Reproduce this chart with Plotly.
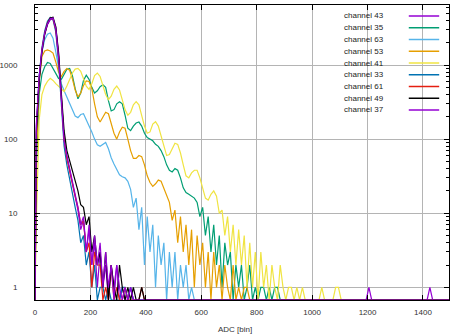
import plotly.graph_objects as go

# ---------------- data (counts per 10-ADC bin, starting at ADC 0) ----------------
bin_width = 10
adc_max = 1500

channels = ["channel 43", "channel 35", "channel 63", "channel 53", "channel 41",
            "channel 33", "channel 61", "channel 49", "channel 37"]
colors = ["#9400D3", "#009E73", "#56B4E9", "#E69F00", "#F0E442",
          "#0072B2", "#E51E10", "#000000", "#9400D3"]

counts_ch43 = [150, 650, 1500, 2600, 3500, 4100, 4200, 3200, 1400, 380, 100, 58, 38, 26, 17,
               11, 6, 8, 3, 6, 2, 4, 1, 3, 1, 2, 0, 2, 1, 2, 0, 1, 0, 0, 1]
counts_ch35 = [40, 400, 750, 950, 1080, 1050, 900, 760, 660, 640, 760, 880, 900, 720, 480,
               350, 420, 620, 730, 640, 500, 420, 450, 510, 540, 500, 330, 240, 250, 300,
               320, 300, 210, 140, 130, 150, 165, 170, 150, 120, 105, 100, 95, 85, 80,
               70, 58, 45, 38, 36, 40, 38, 30, 22, 19, 18, 17, 16, 14, 9,
               12, 5, 9, 3, 7, 2, 5, 1, 4, 2, 3, 0, 2, 1, 2,
               0, 1, 2, 0, 1, 0, 1, 1, 0, 1, 0, 1, 1]
counts_ch63 = [100, 700, 1500, 2200, 2600, 2700, 2300, 1500, 850, 560, 450, 370, 300, 240, 205,
               195, 215, 220, 185, 150, 125, 100, 84, 80, 86, 90, 74, 56, 46, 38,
               33, 31, 30, 27, 21, 12, 16, 6, 12, 2, 9, 3, 7, 1, 5,
               2, 4, 0, 3, 1, 3, 0, 2, 1, 2, 0, 1]
counts_ch53 = [60, 600, 1300, 1550, 1600, 1550, 1450, 1100, 800, 700, 820, 900, 850, 650, 460,
               370, 420, 530, 610, 600, 480, 300, 200, 170, 200, 230, 220, 160, 120, 100,
               125, 145, 140, 100, 70, 55, 55, 60, 58, 45, 32, 26, 23, 25, 28,
               27, 22, 17, 14, 8, 11, 4, 9, 3, 7, 2, 6, 1, 5, 2,
               4, 1, 3, 0, 3, 1, 2, 0, 2, 1, 0, 2, 0, 1, 0, 1, 1]
counts_ch41 = [8, 180, 400, 520, 600, 660, 620, 560, 520, 470, 440, 520, 650, 780, 880,
               900, 820, 640, 520, 470, 560, 720, 780, 700, 540, 400, 340, 380, 470, 520,
               460, 340, 250, 210, 230, 290, 320, 290, 210, 150, 120, 125, 160, 172, 150,
               110, 75, 60, 62, 75, 88, 85, 65, 45, 32, 30, 35, 38, 38, 30,
               22, 16, 15, 18, 20, 17, 10, 11, 5, 9, 3, 7, 2, 6, 2,
               5, 1, 4, 1, 3, 0, 3, 1, 2, 0, 2, 1, 0, 2, 1,
               0, 1, 1, 0, 1, 0, 1]
counts_ch33 = [140, 700, 1700, 2900, 3900, 4400, 4100, 2800, 1100, 300, 80, 45, 28, 18, 12,
               8, 4, 5, 2, 3, 1, 2, 0, 1, 1, 0, 1, 0, 0, 0, 0, 1, 1, 0, 1]
counts_ch61 = [130, 650, 1600, 2700, 3700, 4300, 4200, 3000, 1300, 360, 100, 55, 36, 25, 17,
               12, 7, 8, 3, 4, 1, 3, 2, 2, 0, 1, 0, 2, 0, 1, 0, 0, 1, 0, 0, 0, 0, 0, 1]
counts_ch49 = [120, 600, 1500, 2600, 3600, 4300, 4400, 3300, 1500, 420, 130, 70, 50, 36, 27,
               20, 13, 12, 7, 9, 3, 5, 2, 3, 1, 3, 0, 2, 1, 0, 2, 1, 0, 1, 0, 1, 0, 0, 1]
counts_ch37 = [160, 700, 1600, 2700, 3600, 4200, 4300, 3100, 1300, 350, 95, 60, 40, 28, 19,
               12, 7, 9, 3, 7, 2, 5, 2, 4, 1, 3, 1, 2, 0, 2, 1, 0, 1, 0, 1]

# isolated single hits far out in the tails (ADC bin, counts)
hits_ch43_adc = [1200, 1420]
hits_ch43_counts = [1, 1]
hits_ch41_adc = [1030, 1080, 1090]
hits_ch41_counts = [1, 1, 1]

x_ticks = [0, 200, 400, 600, 800, 1000, 1200, 1400]
y_ticks = [1, 10, 100, 1000]
y_tick_text = ["1", "10", "100", "1000"]

series = [counts_ch43, counts_ch35, counts_ch63, counts_ch53, counts_ch41,
          counts_ch33, counts_ch61, counts_ch49, counts_ch37]
hits = {0: (hits_ch43_adc, hits_ch43_counts), 4: (hits_ch41_adc, hits_ch41_counts)}

# ---------------- figure ----------------
W, H = 450, 334
ml, mr, mt, mb = 28, 0, 5, 34
y_log_min, y_log_max = -0.171, 3.810
floor = 10 ** y_log_min  # empty bins are drawn on the bottom border

bins = list(range(0, adc_max, bin_width))
centers = [b + bin_width / 2 for b in bins]

fig = go.Figure()
for i, (name, col, vals) in enumerate(zip(channels, colors, series)):
    full = [0] * len(bins)
    for k, v in enumerate(vals):
        full[k] = v
    if i in hits:
        for a, c in zip(*hits[i]):
            full[a // bin_width] = c
    xs = [0] + centers + [adc_max]
    ys = [floor] + [v if v > 0 else floor for v in full] + [floor]
    fig.add_trace(go.Scatter(x=xs, y=ys, mode="lines", name=name,
                             line=dict(color=col, width=1.2),
                             showlegend=False, hoverinfo="skip"))

font_fam = "Liberation Sans, Arial, sans-serif"
fig.update_layout(
    width=W, height=H, margin=dict(l=ml, r=mr, t=mt, b=mb),
    paper_bgcolor="white", plot_bgcolor="white",
    font=dict(family=font_fam, size=8, color="#333333"),
    showlegend=False,
)
fig.update_xaxes(range=[0, 1494], tickmode="array", tickvals=x_ticks,
                 ticks="inside", ticklen=5, tickcolor="black", mirror="ticks",
                 showline=True, linecolor="black", linewidth=1,
                 showgrid=True, gridcolor="#b4b4b4", gridwidth=1,
                 zeroline=False, ticklabelstandoff=4,
                 tickfont=dict(size=8, color="#333333"))
minor_vals = [m * 10 ** d for d in range(0, 4) for m in range(2, 10)]
fig.update_yaxes(type="log", range=[y_log_min, y_log_max], tickmode="array",
                 tickvals=y_ticks, ticktext=y_tick_text,
                 ticks="inside", ticklen=5, tickcolor="black", mirror="ticks",
                 showline=True, linecolor="black", linewidth=1,
                 showgrid=True, gridcolor="#b4b4b4", gridwidth=1,
                 zeroline=False, ticklabelstandoff=15,
                 minor=dict(tickmode="array", tickvals=minor_vals, ticks="inside",
                            ticklen=3, tickcolor="black", showgrid=False),
                 tickfont=dict(size=8, color="#333333"))

# x-axis title
pw = W - ml - mr
ph = H - mt - mb
fig.add_annotation(text="ADC [bin]", xref="paper", yref="paper",
                   x=(232 - ml) / pw, y=-(329 - (mt + ph)) / ph,
                   xanchor="center", yanchor="middle", showarrow=False,
                   font=dict(size=8, color="#333333", family=font_fam))

# legend (text on the left, line sample on the right, opaque white box)
fig.add_shape(type="rect", xref="paper", yref="paper",
              x0=(345 - ml) / pw, x1=(446 - ml) / pw,
              y0=1 - (116 - mt) / ph, y1=1 - (8 - mt) / ph,
              fillcolor="white", line=dict(width=0), layer="between")
for i, (name, col) in enumerate(zip(channels, colors)):
    py = 16 + 11.75 * i
    yp = 1 - (py - mt) / ph
    fig.add_annotation(text=name, xref="paper", yref="paper",
                       x=(386 - ml) / pw, y=yp, xanchor="right", yanchor="middle",
                       showarrow=False,
                       font=dict(size=8, color="#222222", family=font_fam))
    fig.add_shape(type="line", xref="paper", yref="paper",
                  x0=(409 - ml) / pw, x1=(440 - ml) / pw, y0=yp, y1=yp,
                  line=dict(color=col, width=1.5), layer="above")

fig.write_html("out.html")
